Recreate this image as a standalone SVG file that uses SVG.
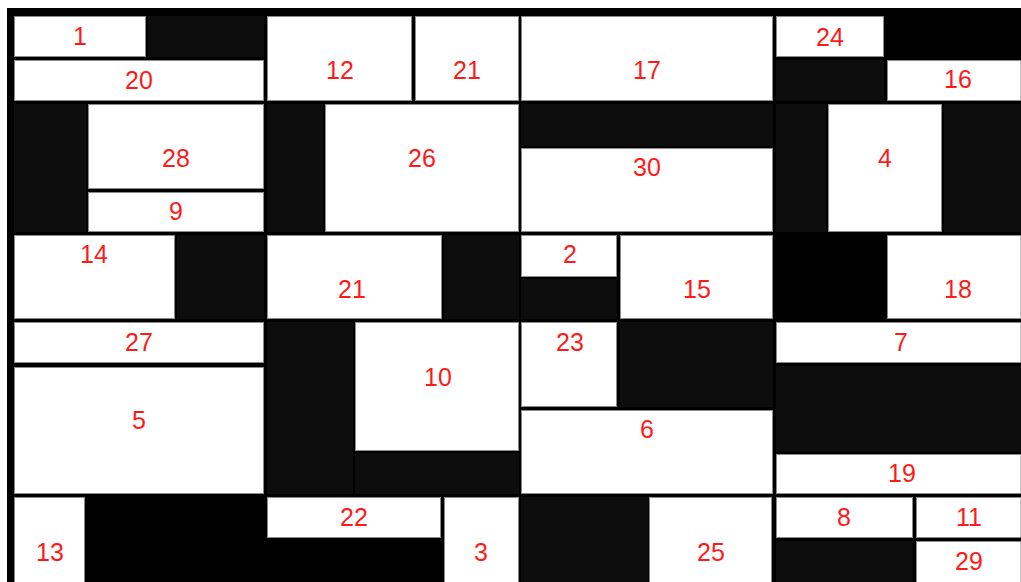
<svg xmlns="http://www.w3.org/2000/svg" width="1021" height="582" viewBox="0 0 1021 582">
<style>
.c{fill:#ffffff;stroke:#8a8a8a;stroke-width:1}
.d{fill:#0d0d0d}
text{font-family:"Liberation Sans",Arial,sans-serif;font-size:25px;fill:#ff1a1a;text-anchor:middle}
</style>
<rect x="0" y="0" width="1021" height="582" fill="#ffffff"/>
<rect x="7" y="8" width="1014" height="574" fill="#000000"/>
<g id="fillers">
<rect class="d" x="148" y="16" width="116" height="41"/>
<rect class="d" x="14" y="104" width="72" height="128"/>
<rect class="d" x="267" y="104" width="56" height="128"/>
<rect class="d" x="521" y="104" width="252" height="42"/>
<rect class="d" x="776" y="60" width="108" height="41"/>
<rect class="d" x="776" y="104" width="50" height="128"/>
<rect class="d" x="944" y="104" width="77" height="128"/>
<rect class="d" x="177" y="235" width="87" height="84"/>
<rect class="d" x="444" y="235" width="75" height="84"/>
<rect class="d" x="521" y="279" width="96" height="40"/>
<rect class="d" x="267" y="322" width="86" height="172"/>
<rect class="d" x="355" y="453" width="164" height="41"/>
<rect class="d" x="620" y="322" width="153" height="85"/>
<rect class="d" x="776" y="366" width="245" height="86"/>
<rect class="d" x="521" y="497" width="127" height="85"/>
<rect class="d" x="776" y="541" width="137" height="41"/>
</g>
<g id="n1"><rect class="c" x="14.5" y="16.5" width="131" height="40"/><text x="80" y="45">1</text></g>
<g id="n20"><rect class="c" x="14.5" y="60.5" width="249" height="40"/><text x="139" y="89">20</text></g>
<g id="n28"><rect class="c" x="88.5" y="104.5" width="175" height="84"/><text x="176" y="167">28</text></g>
<g id="n9"><rect class="c" x="88.5" y="192.5" width="175" height="39"/><text x="176" y="220">9</text></g>
<g id="n12"><rect class="c" x="267.5" y="16.5" width="144" height="84"/><text x="340" y="79">12</text></g>
<g id="n21a"><rect class="c" x="415.5" y="16.5" width="103" height="84"/><text x="467" y="79">21</text></g>
<g id="n26"><rect class="c" x="325.5" y="104.5" width="193" height="127"/><text x="422" y="167">26</text></g>
<g id="n17"><rect class="c" x="521.5" y="16.5" width="251" height="84"/><text x="647" y="79">17</text></g>
<g id="n30"><rect class="c" x="521.5" y="148.5" width="251" height="83"/><text x="647" y="176">30</text></g>
<g id="n24"><rect class="c" x="776.5" y="16.5" width="107" height="40"/><text x="830" y="46">24</text></g>
<g id="n16"><rect class="c" x="887.5" y="60.5" width="133.5" height="40"/><text x="958" y="88">16</text></g>
<g id="n4"><rect class="c" x="828.5" y="104.5" width="113" height="127"/><text x="885" y="167">4</text></g>
<g id="n14"><rect class="c" x="14.5" y="235.5" width="160" height="83"/><text x="94" y="263">14</text></g>
<g id="n27"><rect class="c" x="14.5" y="322.5" width="249" height="40"/><text x="139" y="351">27</text></g>
<g id="n5"><rect class="c" x="14.5" y="367.5" width="249" height="126"/><text x="139" y="429">5</text></g>
<g id="n21b"><rect class="c" x="267.5" y="235.5" width="174" height="83"/><text x="352" y="298">21</text></g>
<g id="n10"><rect class="c" x="355.5" y="322.5" width="163" height="128"/><text x="438" y="386">10</text></g>
<g id="n2"><rect class="c" x="521.5" y="235.5" width="95" height="41"/><text x="570" y="263">2</text></g>
<g id="n15"><rect class="c" x="620.5" y="235.5" width="152" height="83"/><text x="697" y="298">15</text></g>
<g id="n23"><rect class="c" x="521.5" y="322.5" width="95" height="84"/><text x="570" y="351">23</text></g>
<g id="n6"><rect class="c" x="521.5" y="410.5" width="251" height="83"/><text x="647" y="438">6</text></g>
<g id="n18"><rect class="c" x="887.5" y="235.5" width="133.5" height="83"/><text x="958" y="298">18</text></g>
<g id="n7"><rect class="c" x="776.5" y="322.5" width="244.5" height="40"/><text x="901" y="351">7</text></g>
<g id="n19"><rect class="c" x="776.5" y="454.5" width="244.5" height="39"/><text x="902" y="482">19</text></g>
<g id="n13"><rect class="c" x="14.5" y="497.5" width="70" height="85"/><text x="50" y="561">13</text></g>
<g id="n22"><rect class="c" x="267.5" y="497.5" width="173" height="40"/><text x="354" y="526">22</text></g>
<g id="n3"><rect class="c" x="444.5" y="497.5" width="74" height="85"/><text x="481" y="561">3</text></g>
<g id="n25"><rect class="c" x="649.5" y="497.5" width="122" height="85"/><text x="711" y="561">25</text></g>
<g id="n8"><rect class="c" x="776.5" y="497.5" width="136" height="40"/><text x="844" y="526">8</text></g>
<g id="n11"><rect class="c" x="916.5" y="497.5" width="104.5" height="40"/><text x="969" y="526">11</text></g>
<g id="n29"><rect class="c" x="916.5" y="541.5" width="104.5" height="41"/><text x="969" y="570">29</text></g>
<g id="connectors"></g>
</svg>
